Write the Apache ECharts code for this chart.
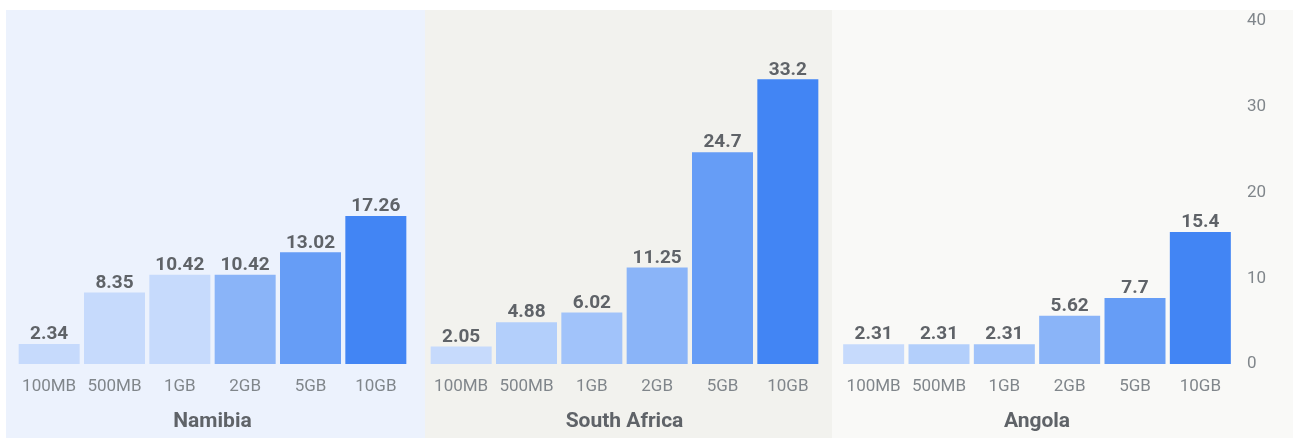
<!DOCTYPE html>
<html>
<head>
<meta charset="utf-8">
<script src="https://cdn.jsdelivr.net/npm/echarts@6/dist/echarts.min.js"></script>
<style>
html,body{margin:0;padding:0;background:#fff;}
#chart{width:1293px;height:439px;}
</style>
</head>
<body>
<div id="chart"></div>
<script>
const categories = ['100MB','500MB','1GB','2GB','5GB','10GB'];
const countries = ['Namibia','South Africa','Angola'];
const namibia = [2.34, 8.35, 10.42, 10.42, 13.02, 17.26];
const southAfrica = [2.05, 4.88, 6.02, 11.25, 24.7, 33.2];
const angola = [2.31, 2.31, 2.31, 5.62, 7.7, 15.4];
const yTicks = [0, 10, 20, 30, 40];

const seriesValues = [namibia, southAfrica, angola];
const panelColors = [
  ['#c6dafc','#c6dafc','#c6dafc','#8ab4f8','#669df6','#4285f4'],
  ['#c6dafc','#b3cffb','#a1c3fa','#8ab4f8','#669df6','#4285f4'],
  ['#c6dafc','#b3cffb','#a1c3fa','#8ab4f8','#669df6','#4285f4']
];
const panelBg = ['#ecf2fd','#f2f2ee','#f9f9f7'];
const panelX = [[6,425],[425,832],[832,1293]];
const gridLeft = [16.5, 428.5, 841];
const gridWidth = 392;
const FONT = 'Roboto, "Open Sans", sans-serif';

const chart = echarts.init(document.getElementById('chart'), null, {renderer:'canvas'});

const grids = [], xAxes = [], yAxes = [], series = [];
for (let i = 0; i < 3; i++) {
  grids.push({left: gridLeft[i], width: gridWidth, top: 21, bottom: 75, containLabel: false});
  xAxes.push({
    type: 'category', gridIndex: i, data: categories,
    axisLine: {show:false}, axisTick: {show:false},
    axisLabel: {color:'#80868b', fontSize:17, fontFamily: FONT, margin: 14, interval: 0},
    name: countries[i], nameLocation: 'middle', nameGap: 47,
    nameTextStyle: {color:'#5f6368', fontSize:21, fontWeight:'bold', fontFamily: FONT}
  });
  yAxes.push({
    type: 'value', gridIndex: i, min: yTicks[0], max: yTicks[yTicks.length-1], interval: 10,
    position: 'right',
    splitLine: {show:false}, axisLine:{show:false}, axisTick:{show:false},
    axisLabel: {show: i === 2, color:'#80868b', fontSize:17, fontFamily: FONT, margin: 14}
  });
  series.push({
    type: 'bar', xAxisIndex: i, yAxisIndex: i, barWidth: 61,
    data: seriesValues[i].map((v, j) => ({value: v, itemStyle: {color: panelColors[i][j]}})),
    label: {show: true, position: 'top', distance: 0, color:'#5f6368', fontSize:19, fontWeight:'bold', fontFamily: FONT},
    silent: true
  });
}

const graphics = panelX.map((p, i) => ({
  type: 'rect', z: -10, silent: true,
  shape: {x: p[0], y: 10, width: p[1]-p[0], height: 428},
  style: {fill: panelBg[i]}
}));

chart.setOption({
  animation: false,
  backgroundColor: '#ffffff',
  graphic: graphics,
  grid: grids, xAxis: xAxes, yAxis: yAxes, series: series
});
</script>
</body>
</html>
